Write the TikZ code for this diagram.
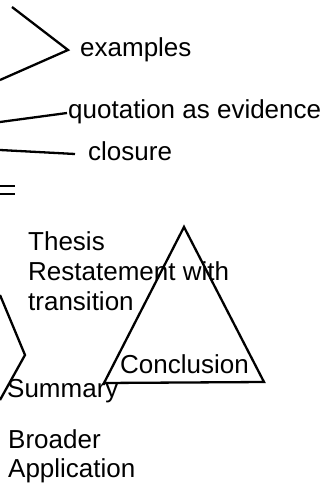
\documentclass[tikz,border=0pt]{standalone}
\usepackage{fontspec}
\setmainfont{Liberation Sans}
\begin{document}
\begin{tikzpicture}[x=1pt,y=-1pt,
  lbl/.style={anchor=base west,inner sep=0pt,font=\fontsize{26}{30}\selectfont,align=left},
  stroke/.style={line width=2.3pt,line join=miter}]
\useasboundingbox[fill=white] (0,0) rectangle (336,492);
% texts (multi-line nodes: base anchor = baseline of last line)
\node[lbl] (ex) at (80,57) {examples};
\node[lbl] (quo) at (68,118) {quotation as evidence};
\node[lbl] (clo) at (88,160) {closure};
\node[lbl] (thesis) at (28,310) {Thesis\\Restatement with\\transition};
\node[lbl] (conc) at (120,373) {Conclusion};
\node[lbl] (sum) at (7,397) {Summary};
\node[lbl,font=\fontsize{26}{29}\selectfont] (broad) at (8,477) {Broader\\Application};
% connectors
\coordinate (exA) at (12,7);
\coordinate (exV) at (68,50);
\coordinate (exB) at (0,80);
\draw[stroke] (exA) -- (exV) -- (exB);
\coordinate (quoL) at (0,122);
\coordinate (quoR) at (67,113);
\draw[stroke] (quoL) -- (quoR);
\coordinate (cloL) at (0,150);
\coordinate (cloR) at (75,154);
\draw[stroke] (cloL) -- (cloR);
\coordinate (eqA) at (0,186);
\coordinate (eqB) at (15,186);
\coordinate (eqC) at (0,194);
\coordinate (eqD) at (15,194);
\draw[stroke] (eqA) -- (eqB) (eqC) -- (eqD);
\coordinate (smA) at (0,295);
\coordinate (smV) at (25,355);
\coordinate (smB) at (0,400);
\draw[stroke] (smA) -- (smV) -- (smB);
% triangle
\coordinate (tTop) at (184,227);
\coordinate (tL) at (104,383);
\coordinate (tR) at (264,382);
\draw[stroke] (tTop) -- (tL) -- (tR) -- cycle;
\end{tikzpicture}
\end{document}
